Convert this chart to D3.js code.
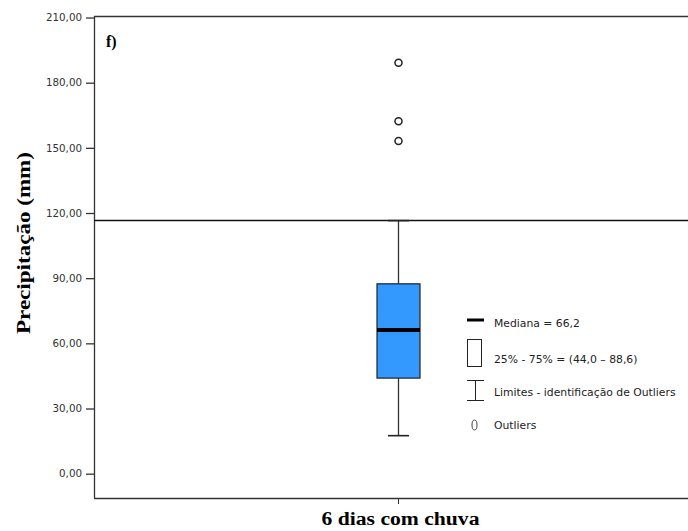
<!DOCTYPE html>
<html><head><meta charset="utf-8">
<script src="https://cdn.jsdelivr.net/npm/d3@7"></script>
<style>body{margin:0;background:#fff}svg{display:block}</style>
</head><body>
<svg id="c" width="688" height="531"></svg>
<script>
const category = ["6 dias com chuva"];
const boxStats = {min: 17.5, q1: 44.0, median: 66.2, q3: 87.4, max: 116.5};
const outliers = [153.2, 162.3, 189.2];
const refLine = [116.5];
const yTicks = [0, 30, 60, 90, 120, 150, 180, 210];
const legendLabels = ["Mediana = 66,2", "25% - 75% = (44,0 \u2013 88,6)", "Limites - identifica\u00e7\u00e3o de Outliers", "Outliers"];

const svg = d3.select("#c");
const L = 94, T = 16, B = 498;
const y = d3.scaleLinear().domain([-11.2, 210.7]).range([B, T]);
const x = d3.scaleBand().domain(category).range([L, 701]).padding(0);
const cx = Math.round(x(category[0]) + x.bandwidth()/2) + 0.5;

// frame
svg.append("line").attr("x1", L).attr("x2", 688).attr("y1", T+0.5).attr("y2", T+0.5).attr("stroke", "#333").attr("stroke-width", 1.3);
svg.append("line").attr("x1", L+0.5).attr("x2", L+0.5).attr("y1", T).attr("y2", B).attr("stroke", "#333").attr("stroke-width", 1.3);
svg.append("line").attr("x1", L).attr("x2", 688).attr("y1", B+0.5).attr("y2", B+0.5).attr("stroke", "#333").attr("stroke-width", 1.3);

// y axis
const yAxis = d3.axisLeft(y).tickValues(yTicks).tickSize(8).tickPadding(4)
  .tickFormat(d => d3.format(".2f")(d).replace(".", ","));
const ga = svg.append("g").attr("transform", `translate(${L},0)`).call(yAxis);
ga.select(".domain").remove();
ga.selectAll(".tick line").attr("stroke", "#333").attr("stroke-width", 1.3);
ga.selectAll(".tick text").attr("font-family", "'DejaVu Sans', Verdana, sans-serif").attr("font-size", 10.3).attr("fill", "#333");

// x tick
svg.append("line").attr("x1", cx).attr("x2", cx).attr("y1", B).attr("y2", B+6).attr("stroke", "#333");
svg.append("text").attr("x", cx + 2).attr("y", 525).attr("text-anchor", "middle")
  .attr("font-family", "'Liberation Serif', 'Times New Roman', serif").attr("font-weight", "bold").attr("font-size", 18)
  .attr("textLength", 158).attr("lengthAdjust", "spacingAndGlyphs")
  .text(category[0]);

// y label
svg.append("text").attr("transform", "translate(30,243) rotate(-90)").attr("text-anchor", "middle")
  .attr("font-family", "'Liberation Serif', 'Times New Roman', serif").attr("font-weight", "bold").attr("font-size", 18)
  .attr("textLength", 182).attr("lengthAdjust", "spacingAndGlyphs")
  .text("Precipita\u00e7\u00e3o (mm)");

// panel letter
svg.append("text").attr("x", 106).attr("y", 47)
  .attr("font-family", "'Liberation Serif', 'Times New Roman', serif").attr("font-weight", "bold").attr("font-size", 16)
  .text("f)");

// reference line
svg.selectAll(".ref").data(refLine).enter().append("line")
  .attr("x1", L).attr("x2", 688).attr("y1", d => y(d)).attr("y2", d => y(d))
  .attr("stroke", "#111").attr("stroke-width", 1.5);

// whiskers
const bw = 43, cw = 21;
svg.append("line").attr("x1", cx).attr("x2", cx).attr("y1", y(boxStats.max)).attr("y2", y(boxStats.q3)).attr("stroke", "#333").attr("stroke-width", 1.3);
svg.append("line").attr("x1", cx).attr("x2", cx).attr("y1", y(boxStats.q1)).attr("y2", y(boxStats.min)).attr("stroke", "#333").attr("stroke-width", 1.3);
[boxStats.max, boxStats.min].forEach(v => {
  svg.append("line").attr("x1", cx - cw/2).attr("x2", cx + cw/2).attr("y1", y(v)).attr("y2", y(v)).attr("stroke", "#222").attr("stroke-width", 1.6);
});
// box
svg.append("rect").attr("x", cx - bw/2).attr("width", bw).attr("y", y(boxStats.q3)).attr("height", y(boxStats.q1) - y(boxStats.q3))
  .attr("fill", "#3399ff").attr("stroke", "#222").attr("stroke-width", 1.2);
svg.append("line").attr("x1", cx - bw/2).attr("x2", cx + bw/2).attr("y1", y(boxStats.median)).attr("y2", y(boxStats.median)).attr("stroke", "#000").attr("stroke-width", 4);

// outliers
svg.selectAll(".out").data(outliers).enter().append("circle")
  .attr("cx", cx).attr("cy", d => y(d)).attr("r", 3.5).attr("fill", "none").attr("stroke", "#222").attr("stroke-width", 1.5);

// legend
const lf = "'DejaVu Sans', Verdana, sans-serif";
const lx = 494;
svg.append("line").attr("x1", 467).attr("x2", 484).attr("y1", 320).attr("y2", 320).attr("stroke", "#000").attr("stroke-width", 3);
svg.append("rect").attr("x", 467.5).attr("y", 339.5).attr("width", 14).attr("height", 27).attr("fill", "#fff").attr("stroke", "#222").attr("stroke-width", 1);
svg.append("line").attr("x1", 475.5).attr("x2", 475.5).attr("y1", 380).attr("y2", 400).attr("stroke", "#222");
svg.append("line").attr("x1", 467).attr("x2", 484).attr("y1", 380.5).attr("y2", 380.5).attr("stroke", "#222");
svg.append("line").attr("x1", 467).attr("x2", 484).attr("y1", 400.5).attr("y2", 400.5).attr("stroke", "#222");
svg.append("ellipse").attr("cx", 474.5).attr("cy", 425).attr("rx", 2.5).attr("ry", 5).attr("fill", "none").attr("stroke", "#444").attr("stroke-width", 1);
const ly = [327, 363, 396, 429];
svg.selectAll(".lt").data(legendLabels).enter().append("text")
  .attr("x", lx).attr("y", (d, i) => ly[i]).attr("font-family", lf).attr("font-size", 10.8).attr("fill", "#222")
  .text(d => d);
</script>
</body></html>
